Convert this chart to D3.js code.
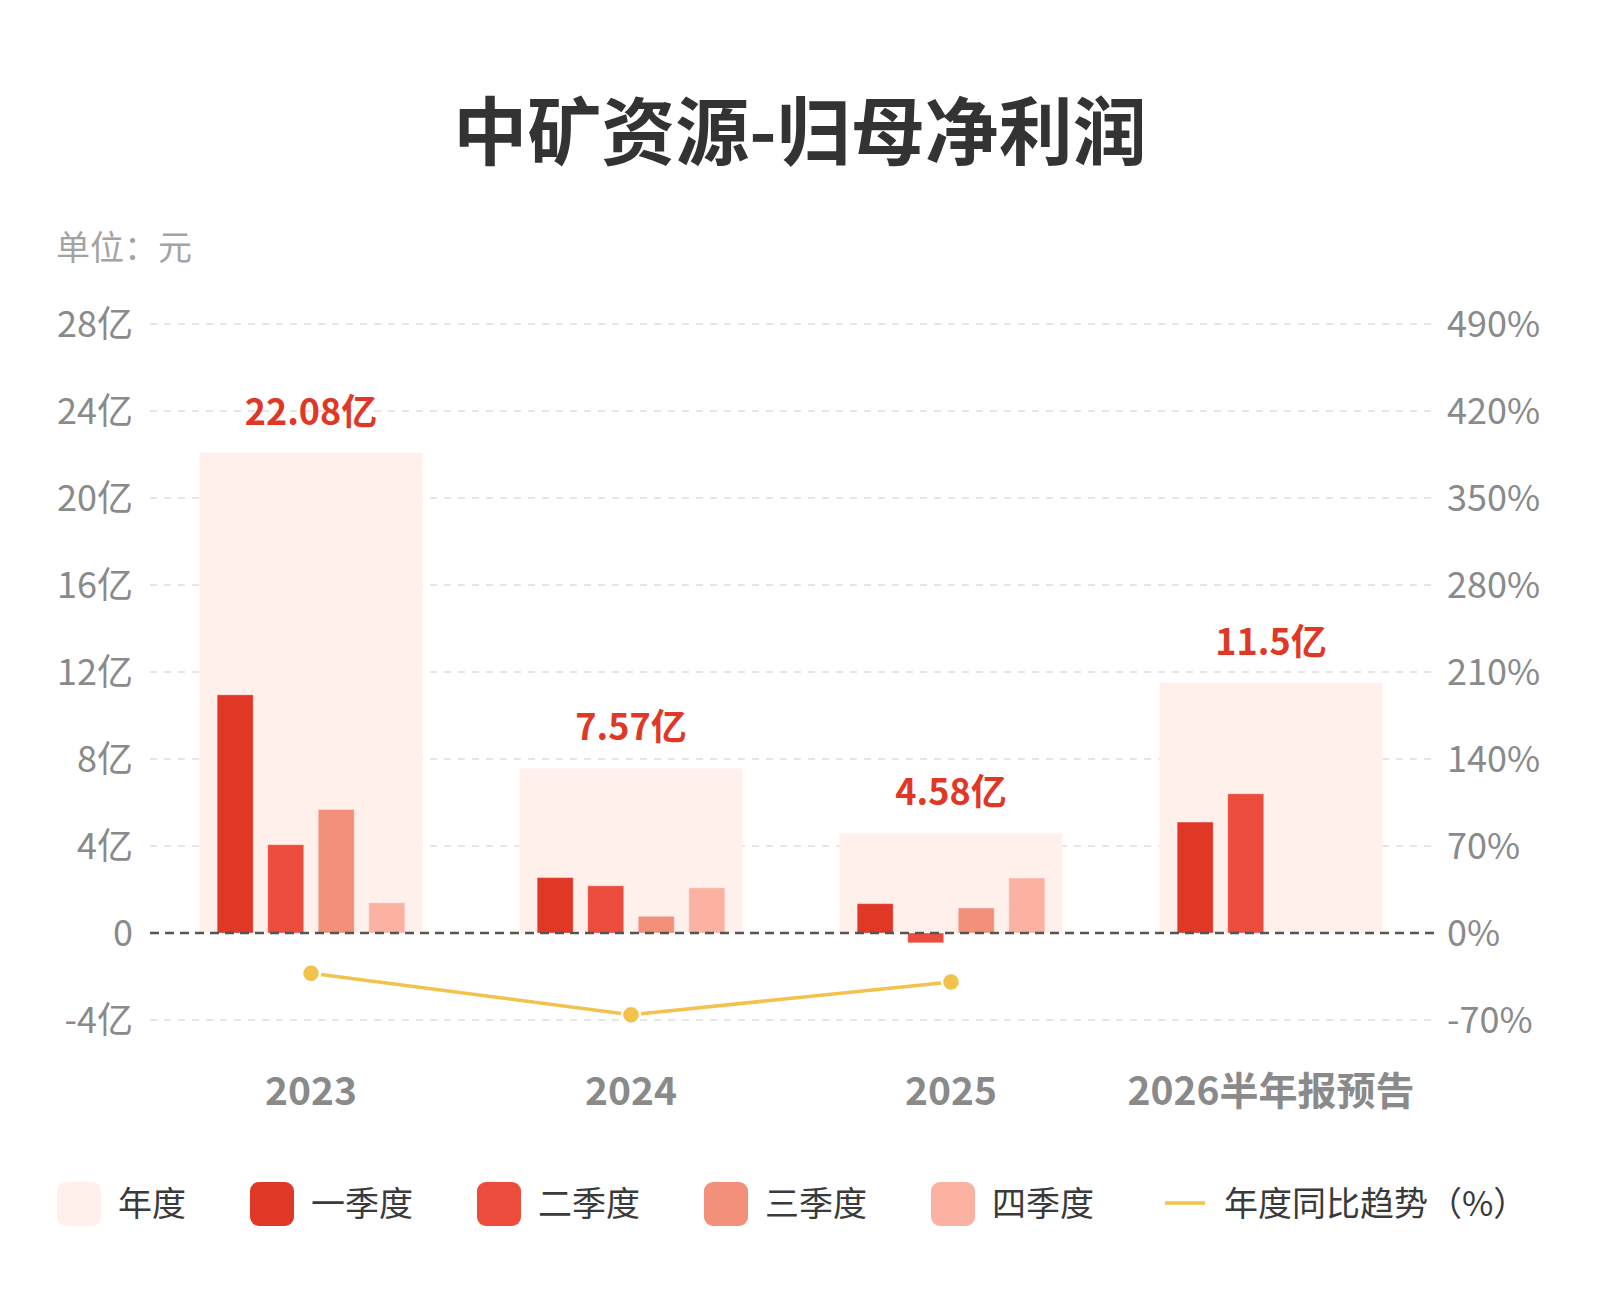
<!DOCTYPE html>
<html>
<head>
<meta charset="utf-8">
<script src="https://cdn.jsdelivr.net/npm/d3@7"></script>
<style>
  html, body { margin: 0; padding: 0; background: #fff; }
  svg text { font-family: "Noto Sans CJK SC", "Noto Sans", sans-serif; }
</style>
</head>
<body>
<div id="chart"></div>
<script>
const WIDTH = 1600;
const HEIGHT = 1300;

const years = ["2023", "2024", "2025", "2026半年报预告"];
const quarters = ["一季度", "二季度", "三季度", "四季度"];
const annualTotals = [22.08, 7.57, 4.58, 11.5];
const annualLabels = ["22.08亿", "7.57亿", "4.58亿", "11.5亿"];
const quarterValues = [
  [10.95, 4.06, 5.68, 1.39],
  [2.55, 2.17, 0.77, 2.08],
  [1.35, -0.45, 1.15, 2.53],
  [5.1, 6.4, null, null]
];
const yoyPct = [-32.4, -65.7, -39.5, null];
const leftTicks = [-4, 0, 4, 8, 12, 16, 20, 24, 28];
const rightTicks = [-70, 0, 70, 140, 210, 280, 350, 420, 490];

const annualColor = "#fff0ec";
const quarterColors = ["#e03826", "#ec4c3b", "#f3907a", "#fbb2a2"];
const lineColor = "#f2c24c";

const svg = d3.select("#chart")
  .append("svg")
  .attr("width", WIDTH)
  .attr("height", HEIGHT)
  .attr("viewBox", `0 0 ${WIDTH} ${HEIGHT}`);

svg.append("rect").attr("width", WIDTH).attr("height", HEIGHT).attr("fill", "#fff");

// title + unit
svg.append("text")
  .attr("x", 800)
  .attr("y", 159)
  .attr("text-anchor", "middle")
  .attr("font-size", 74)
  .attr("font-weight", 700)
  .attr("fill", "#333")
  .text("中矿资源-归母净利润");

svg.append("text")
  .attr("x", 56)
  .attr("y", 260)
  .attr("font-size", 34)
  .attr("fill", "#a3a3a3")
  .text("单位：元");

// scales
const x = d3.scaleBand()
  .domain(years)
  .range([151, 1431])
  .paddingInner(0.303)
  .paddingOuter(0.1515);

const xq = d3.scaleBand()
  .domain(quarters)
  .range([0, x.bandwidth()])
  .paddingInner(0.287)
  .paddingOuter(0.35);

const y = d3.scaleLinear().domain([-4, 28]).range([1020, 324]);
const yR = d3.scaleLinear().domain([-70, 490]).range([1020, 324]);

const gridX0 = 150;
const gridX1 = 1434;

// grid
const grid = svg.append("g").attr("class", "grid");
grid.selectAll("line")
  .data(leftTicks.filter((d) => d !== 0))
  .join("line")
  .attr("x1", gridX0)
  .attr("x2", gridX1)
  .attr("y1", (d) => y(d))
  .attr("y2", (d) => y(d))
  .attr("stroke", "#dedede")
  .attr("stroke-width", 1.5)
  .attr("stroke-dasharray", "7,7");

// left axis labels
svg.append("g")
  .selectAll("text")
  .data(leftTicks)
  .join("text")
  .attr("x", 133)
  .attr("y", (d) => y(d))
  .attr("dy", "0.36em")
  .attr("text-anchor", "end")
  .attr("font-size", 36)
  .attr("fill", "#8a8a8a")
  .text((d) => (d === 0 ? "0" : `${d}亿`));

// right axis labels
svg.append("g")
  .selectAll("text")
  .data(rightTicks)
  .join("text")
  .attr("x", 1447)
  .attr("y", (d) => yR(d))
  .attr("dy", "0.36em")
  .attr("font-size", 36)
  .attr("fill", "#8a8a8a")
  .text((d) => `${d}%`);

// annual background bars
svg.append("g")
  .selectAll("rect")
  .data(years)
  .join("rect")
  .attr("x", (d) => x(d))
  .attr("width", x.bandwidth())
  .attr("y", (d, i) => y(annualTotals[i]))
  .attr("height", (d, i) => y(0) - y(annualTotals[i]))
  .attr("fill", annualColor);

// quarter bars
const quarterGroups = svg.append("g")
  .selectAll("g")
  .data(years)
  .join("g")
  .attr("transform", (d) => `translate(${x(d)},0)`);

quarterGroups.selectAll("rect")
  .data((d, i) => quarters
    .map((q, j) => ({ q, j, value: quarterValues[i][j] }))
    .filter((d) => d.value !== null))
  .join("rect")
  .attr("x", (d) => xq(d.q))
  .attr("width", xq.bandwidth())
  .attr("y", (d) => y(Math.max(0, d.value)))
  .attr("height", (d) => Math.abs(y(d.value) - y(0)))
  .attr("fill", (d) => quarterColors[d.j])
  .attr("stroke", "#fff")
  .attr("stroke-opacity", 0.35)
  .attr("stroke-width", 1);

// zero line
svg.append("line")
  .attr("x1", gridX0)
  .attr("x2", gridX1)
  .attr("y1", y(0))
  .attr("y2", y(0))
  .attr("stroke", "#555")
  .attr("stroke-width", 2.5)
  .attr("stroke-dasharray", "9,6");

// annual value labels
svg.append("g")
  .selectAll("text")
  .data(years)
  .join("text")
  .attr("x", (d) => x(d) + x.bandwidth() / 2)
  .attr("y", (d, i) => y(annualTotals[i]) - 28)
  .attr("text-anchor", "middle")
  .attr("font-size", 36)
  .attr("font-weight", 700)
  .attr("fill", "#e03826")
  .text((d, i) => annualLabels[i]);

// yoy line
const linePoints = years
  .map((d, i) => ({ year: d, value: yoyPct[i] }))
  .filter((d) => d.value !== null);

const line = d3.line()
  .x((d) => x(d.year) + x.bandwidth() / 2)
  .y((d) => yR(d.value));

svg.append("path")
  .datum(linePoints)
  .attr("d", line)
  .attr("fill", "none")
  .attr("stroke", lineColor)
  .attr("stroke-width", 3.5);

svg.append("g")
  .selectAll("circle")
  .data(linePoints)
  .join("circle")
  .attr("cx", (d) => x(d.year) + x.bandwidth() / 2)
  .attr("cy", (d) => yR(d.value))
  .attr("r", 9)
  .attr("fill", lineColor)
  .attr("stroke", "#fff")
  .attr("stroke-width", 2.5);

// x-axis labels
svg.append("g")
  .selectAll("text")
  .data(years)
  .join("text")
  .attr("x", (d) => x(d) + x.bandwidth() / 2)
  .attr("y", 1105)
  .attr("text-anchor", "middle")
  .attr("font-size", 39)
  .attr("font-weight", 700)
  .attr("fill", "#8a8a8a")
  .text((d) => d);

// legend
const legendItems = [
  { label: "年度", color: annualColor, type: "rect" },
  ...quarters.map((q, i) => ({ label: q, color: quarterColors[i], type: "rect" })),
  { label: "年度同比趋势（%）", color: lineColor, type: "line" }
];

const legend = svg.append("g").attr("class", "legend");
let cursorX = 57;
const legendCenterY = 1204;

legendItems.forEach((item) => {
  const g = legend.append("g");
  let textX;
  if (item.type === "rect") {
    g.append("rect")
      .attr("x", cursorX)
      .attr("y", legendCenterY - 22)
      .attr("width", 44)
      .attr("height", 44)
      .attr("rx", 9)
      .attr("fill", item.color);
    textX = cursorX + 61;
  } else {
    const lx = cursorX + 7;
    g.append("line")
      .attr("x1", lx)
      .attr("x2", lx + 40)
      .attr("y1", legendCenterY - 1)
      .attr("y2", legendCenterY - 1)
      .attr("stroke", item.color)
      .attr("stroke-width", 3.5);
    textX = lx + 59;
  }
  const label = g.append("text")
    .attr("x", textX)
    .attr("y", legendCenterY)
    .attr("dy", "0.36em")
    .attr("font-size", 34)
    .attr("fill", "#3a3a3a")
    .text(item.label);
  const textWidth = label.node().getComputedTextLength();
  cursorX = textX + textWidth + 64;
});
</script>
</body>
</html>
